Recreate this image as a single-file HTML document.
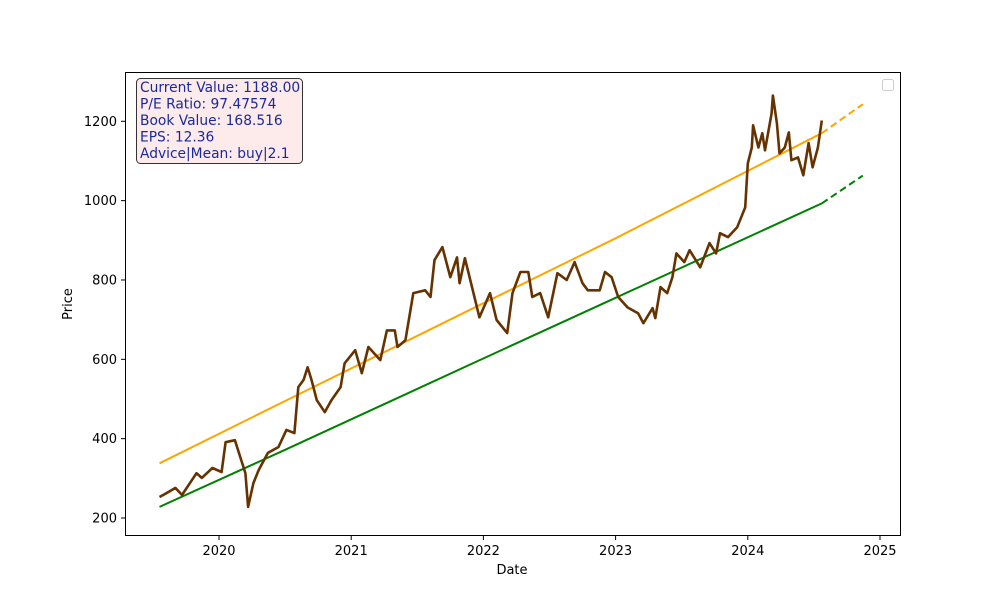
<!DOCTYPE html>
<html><head><meta charset="utf-8"><style>
body{margin:0;background:#fff}
svg text{font-family:"DejaVu Sans","Liberation Sans",sans-serif}
</style></head><body>
<svg id="chart" width="1000" height="600" xmlns="http://www.w3.org/2000/svg">
<rect x="0" y="0" width="1000" height="600" fill="#fff"/>
<g id="marks"></g>
<rect x="125.5" y="72.5" width="775" height="463" fill="none" stroke="#000" stroke-width="1"/>
<g id="axes"></g>
<text x="512" y="574" font-size="13" text-anchor="middle">Date</text>
<text transform="translate(72,304) rotate(-90)" font-size="13" text-anchor="middle">Price</text>
<rect x="882.5" y="79.5" width="11" height="11" rx="2" fill="#fff" stroke="#ccc"/>
<g>
<rect x="136.5" y="78.5" width="166" height="85" rx="4" fill="#fdeaea" stroke="#333" stroke-width="1"/>
<g font-size="13.8" fill="#1a2a9a">
<text x="140" y="92">Current Value: 1188.00</text>
<text x="140" y="108.5">P/E Ratio: 97.47574</text>
<text x="140" y="125">Book Value: 168.516</text>
<text x="140" y="141.5">EPS: 12.36</text>
<text x="140" y="158">Advice|Mean: buy|2.1</text>
</g></g>
</svg>
<script>
const priceDates=[2019.55,2019.6,2019.67,2019.72,2019.83,2019.87,2019.95,2020.02,2020.05,2020.12,2020.16,2020.2,2020.22,2020.26,2020.3,2020.37,2020.45,2020.51,2020.57,2020.6,2020.64,2020.67,2020.7,2020.74,2020.8,2020.85,2020.92,2020.95,2021.03,2021.08,2021.13,2021.22,2021.27,2021.33,2021.35,2021.41,2021.47,2021.56,2021.6,2021.63,2021.69,2021.75,2021.8,2021.82,2021.86,2021.92,2021.97,2022.05,2022.1,2022.18,2022.22,2022.28,2022.34,2022.37,2022.43,2022.49,2022.56,2022.63,2022.69,2022.75,2022.79,2022.88,2022.92,2022.97,2023.02,2023.09,2023.17,2023.21,2023.28,2023.3,2023.34,2023.39,2023.43,2023.46,2023.52,2023.56,2023.64,2023.71,2023.76,2023.79,2023.85,2023.92,2023.95,2023.98,2024.0,2024.03,2024.04,2024.08,2024.11,2024.13,2024.18,2024.19,2024.22,2024.24,2024.28,2024.31,2024.33,2024.38,2024.42,2024.46,2024.49,2024.53,2024.56];
const priceValues=[253,262,276,258,313,301,326,316,391,396,354,313,228,288,321,364,379,422,414,530,548,580,548,497,467,497,530,590,623,565,631,598,673,673,631,648,767,774,757,850,883,807,857,792,855,774,706,767,699,666,767,820,820,757,767,706,817,800,845,792,774,774,820,807,757,731,716,691,729,704,782,767,807,867,845,875,832,893,867,918,908,933,958,983,1094,1134,1190,1134,1170,1127,1220,1265,1195,1119,1134,1172,1102,1109,1064,1145,1084,1134,1202];
const fitDates=[2019.55,2020.5,2021.9,2023.0,2024.56];
const upperValues=[338,495,725,905,1170];
const lowerValues=[228,372,587,755,993];
const fcDates=[2024.56,2024.87];
const upperForecast=[1170,1243];
const lowerForecast=[993,1063];
const yTicks=[200,400,600,800,1000,1200];
const xTicks=[2020,2021,2022,2023,2024,2025];
const NS='http://www.w3.org/2000/svg';
function xs(t){return 219+(t-2020)*132.2;}
function ys(v){return 518-(v-200)*0.3967;}
function mk(tag,attrs,parent){const e=document.createElementNS(NS,tag);for(const k in attrs)e.setAttribute(k,attrs[k]);parent.appendChild(e);return e;}
const marks=document.getElementById('marks'),axes=document.getElementById('axes');
function pts(d,v){return d.map((t,i)=>xs(t).toFixed(1)+','+ys(v[i]).toFixed(1)).join(' ');}
let l;
l=mk('polyline',{points:pts(fitDates,upperValues),fill:'none',stroke:'#ffa500','stroke-width':2},marks);


l=mk('polyline',{points:pts(fcDates,upperForecast),fill:'none',stroke:'#ffa500','stroke-width':2,'stroke-dasharray':'7,4'},marks);


l=mk('polyline',{points:pts(fitDates,lowerValues),fill:'none',stroke:'#008000','stroke-width':2},marks);


l=mk('polyline',{points:pts(fcDates,lowerForecast),fill:'none',stroke:'#008000','stroke-width':2,'stroke-dasharray':'7,4'},marks);


l=mk('polyline',{points:pts(priceDates,priceValues),fill:'none',stroke:'#663300','stroke-width':2.6,'stroke-linejoin':'round'},marks);


yTicks.forEach(v=>{const y=ys(v);
 let t=mk('line',{x1:121,x2:125,y1:y,y2:y,stroke:'#000'},axes);
 
 
 let s=mk('text',{x:117,y:y+4.5,'font-size':13,'text-anchor':'end'},axes);s.textContent=v;
 
 });
xTicks.forEach(v=>{const x=xs(v);
 let t=mk('line',{x1:x,x2:x,y1:536,y2:540,stroke:'#000'},axes);
 
 
 let s=mk('text',{x:x,y:555,'font-size':13,'text-anchor':'middle'},axes);s.textContent=v;
 
 });
</script>
</body></html>
